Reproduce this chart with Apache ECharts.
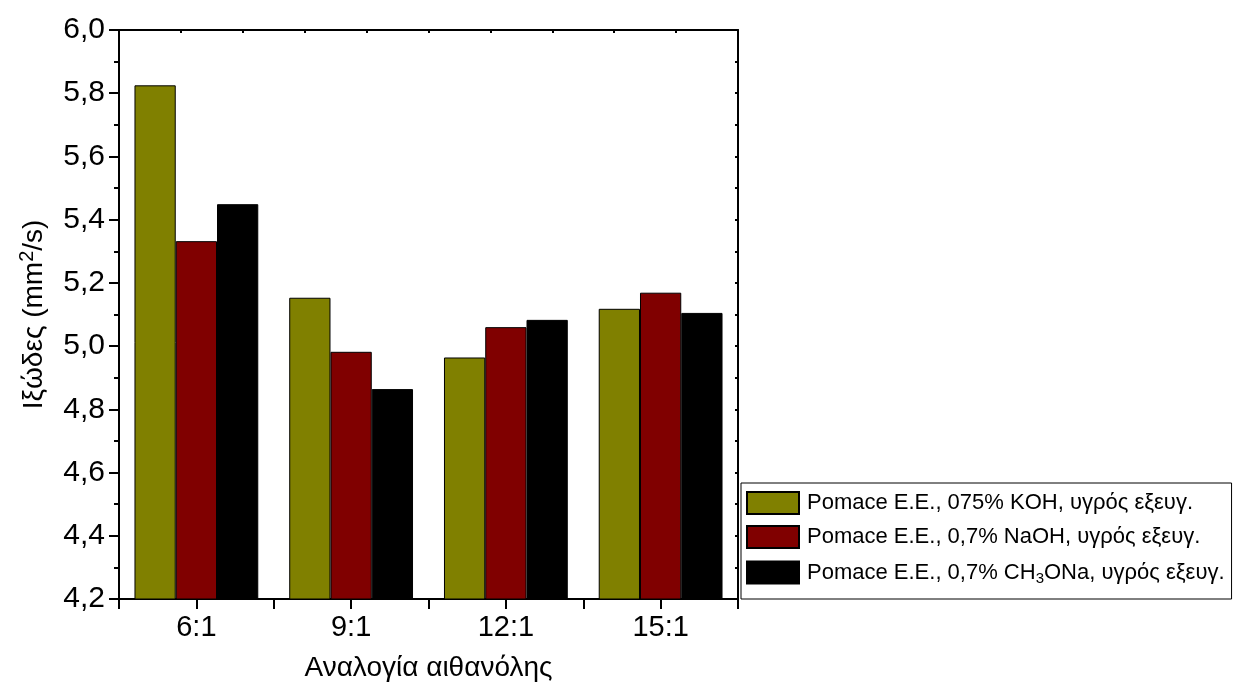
<!DOCTYPE html>
<html>
<head>
<meta charset="utf-8">
<script src="https://cdn.jsdelivr.net/npm/echarts@6/dist/echarts.min.js"></script>
<style>html,body{margin:0;padding:0;background:#fff}#c{width:1238px;height:688px}</style>
</head>
<body>
<div id="c"></div>
<script>
const categories = ['6:1', '9:1', '12:1', '15:1'];
const seriesNames = [
  'Pomace E.E., 075% KOH, υγρός εξευγ.',
  'Pomace E.E., 0,7% NaOH, υγρός εξευγ.',
  'Pomace E.E., 0,7% CH3ONa, υγρός εξευγ.'
];
const kohValues = [5.825, 5.153, 4.964, 5.118];
const naohValues = [5.332, 4.982, 5.060, 5.169];
const ch3onaValues = [5.449, 4.864, 5.083, 5.105];
const yMin = 4.2, yMax = 6.0, yStep = 0.2;
const xAxisTitle = 'Αναλογία αιθανόλης';
const yAxisTitle = '{a|Ιξώδες (mm}{sup|2}{a|/s)}';

const colors = ['#808000', '#800000', '#000000'];
const FONT = 'Liberation Sans';
const chart = echarts.init(document.getElementById('c'));
const values = [kohValues, naohValues, ch3onaValues];

const axisLine = { show: true, lineStyle: { color: '#000', width: 2 } };

chart.setOption({
  animation: false,
  backgroundColor: '#fff',
  grid: { left: 119, right: 500, top: 30, bottom: 89, containLabel: false },
  legend: {
    orient: 'vertical',
    left: 741, top: 483,
    padding: [8, 7, 13, 5],
    borderColor: '#000', borderWidth: 1,
    itemWidth: 52, itemHeight: 22, itemGap: 10,
    icon: 'rect',
    data: seriesNames,
    formatter: n => n.replace('CH3ONa', 'CH{sub|3}ONa'),
    textStyle: {
      fontFamily: FONT, fontSize: 22, color: '#000', lineHeight: 22, padding: [0, 0, 0, 3],
      rich: { sub: { fontFamily: FONT, fontSize: 15, lineHeight: 22, color: '#000', padding: [12, 0, 0, 0] } }
    }
  },
  xAxis: [
    {
      type: 'category', data: categories, position: 'bottom',
      axisLine: axisLine,
      axisTick: { show: true, length: 10, inside: false, lineStyle: { color: '#000', width: 2 } },
      axisLabel: { fontFamily: FONT, fontSize: 29, color: '#000', margin: 14 },
      name: xAxisTitle, nameLocation: 'middle', nameGap: 55,
      nameTextStyle: { fontFamily: FONT, fontSize: 28, color: '#000' }
    },
    {
      type: 'category', data: categories, position: 'bottom', gridIndex: 0,
      axisLine: { show: false },
      axisTick: { show: true, alignWithLabel: true, length: 10, lineStyle: { color: '#000', width: 2 } },
      axisLabel: { show: false }, splitLine: { show: false }
    },
    {
      type: 'value', position: 'top', min: 0, max: 10, interval: 1,
      axisLine: axisLine,
      axisTick: { show: true, inside: true, length: 3, lineStyle: { color: '#000', width: 2 } },
      axisLabel: { show: false }, splitLine: { show: false }
    }
  ],
  yAxis: [
    {
      type: 'value', min: yMin, max: yMax, interval: yStep, position: 'left',
      axisLine: axisLine,
      axisTick: { show: true, length: 10, lineStyle: { color: '#000', width: 2 } },
      minorTick: { show: true, splitNumber: 2, length: 5, lineStyle: { color: '#000', width: 2 } },
      splitLine: { show: false },
      axisLabel: {
        fontFamily: FONT, fontSize: 30, color: '#000', margin: 14,
        formatter: v => v.toFixed(1).replace('.', ',')
      },
      name: yAxisTitle, nameLocation: 'middle', nameGap: 68, nameRotate: 90,
      nameTextStyle: {
        fontFamily: FONT, fontSize: 28, color: '#000',
        rich: {
          a: { fontFamily: FONT, fontSize: 28, color: '#000' },
          sup: { fontFamily: FONT, fontSize: 20, color: '#000', padding: [0, 0, 14, 0] }
        }
      }
    },
    {
      type: 'value', min: yMin, max: yMax, interval: 0.1, position: 'right',
      axisLine: axisLine,
      axisTick: { show: true, inside: true, length: 3, lineStyle: { color: '#000', width: 2 } },
      axisLabel: { show: false }, splitLine: { show: false }
    }
  ],
  series: seriesNames.map((n, i) => ({
    name: n, type: 'bar', xAxisIndex: 0, yAxisIndex: 0,
    data: values[i],
    barGap: '0%', barCategoryGap: '20%',
    itemStyle: { color: colors[i], borderColor: '#000', borderWidth: 1 }
  }))
});
</script>
</body>
</html>
